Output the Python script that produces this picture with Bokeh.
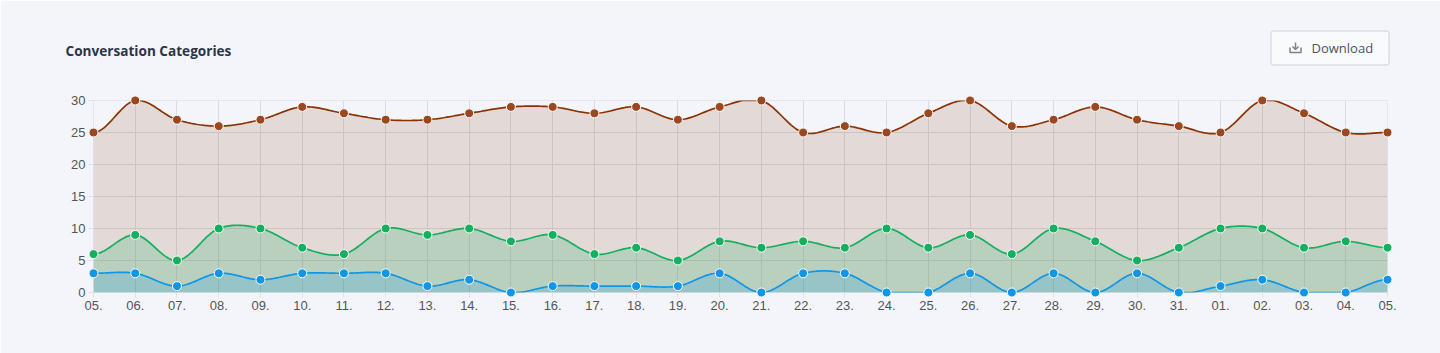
import numpy as np
from bokeh.core.properties import value
from bokeh.embed import file_html
from bokeh.resources import INLINE
from bokeh.plotting import figure
from bokeh.models import FixedTicker, Range1d

labels = ["05.","06.","07.","08.","09.","10.","11.","12.","13.","14.","15.","16.","17.","18.","19.","20.","21.","22.","23.","24.","25.","26.","27.","28.","29.","30.","31.","01.","02.","03.","04.","05."]
brown = [25,30,27,26,27,29,28,27,27,28,29,29,28,29,27,29,30,25,26,25,28,30,26,27,29,27,26,25,30,28,25,25]
green = [6,9,5,10,10,7,6,10,9,10,8,9,6,7,5,8,7,8,7,10,7,9,6,10,8,5,7,10,10,7,8,7]
blue = [3,3,1,3,2,3,3,3,1,2,0,1,1,1,1,3,0,3,3,0,0,3,0,3,0,3,0,1,2,0,0,2]
y_ticks = [0,5,10,15,20,25,30]
series = [(brown,"#8a3200","#99481f",0.14),(green,"#12b05e","#14b060",0.2),(blue,"#0f96e6","#0f96e6",0.2)]
BG = "#f3f5fb"
FL, FR, FT, FB = 93, 1387, 100, 292

def dx(x): return (x - FL) * (len(labels) - 1) / (FR - FL)
def dy(y): return (FB - y) * 30 / (FB - FT)

def smooth(v, n=24):
    v = np.asarray(v, float)
    m = np.zeros(len(v))
    m[1:-1] = (v[2:] - v[:-2]) / 2
    xs, ys = [], []
    for i in range(len(v) - 1):
        t = np.linspace(0, 1, n, endpoint=False)
        h = (2*t**3-3*t**2+1)*v[i] + (t**3-2*t**2+t)*m[i] + (-2*t**3+3*t**2)*v[i+1] + (t**3-t**2)*m[i+1]
        xs.append(i + t); ys.append(h)
    xs.append([len(v)-1]); ys.append([v[-1]])
    return np.concatenate(xs), np.clip(np.concatenate(ys), 0, 30)

idx = list(range(len(labels)))
p = figure(width=1440, height=353, output_backend="svg", toolbar_location=None,
           x_range=Range1d(0, len(labels)-1), y_range=Range1d(0, 30),
           min_border_left=FL, min_border_right=1440-FR, min_border_top=FT, min_border_bottom=353-FB)
p.background_fill_color = BG
p.border_fill_color = BG
p.outline_line_color = "#e4e7ee"
p.grid.grid_line_color = "#d9dbe3"
p.xgrid.ticker = FixedTicker(ticks=idx)
p.ygrid.ticker = FixedTicker(ticks=y_ticks)
p.xaxis.ticker = FixedTicker(ticks=idx)
p.yaxis.ticker = FixedTicker(ticks=y_ticks)
p.xaxis.major_label_overrides = {i: l for i, l in enumerate(labels)}
for ax in (p.xaxis, p.yaxis):
    ax.axis_line_color = None
    ax.major_tick_line_color = "#dfe1e8"
    ax.major_tick_in = 0
    ax.major_tick_out = 5
    ax.minor_tick_line_color = None
    ax.major_label_text_font = "Liberation Sans"
    ax.major_label_text_font_size = "13px"
    ax.major_label_text_color = "#555555"
p.xaxis.major_label_standoff = 3
p.yaxis.major_label_standoff = 3

for vals, col, mcol, a in series:
    xs, ys = smooth(vals)
    p.varea(xs, ys, np.zeros_like(ys), fill_color=col, fill_alpha=a)
for vals, col, mcol, a in series:
    xs, ys = smooth(vals)
    p.line(xs, ys, line_color=col, line_width=1.7)
for vals, col, mcol, a in series:
    p.scatter(idx, vals, size=9, fill_color=mcol, line_color="#ffffff", line_width=1, level="overlay")

p.text([dx(65)], [dy(50)], text=["Conversation Categories"], text_font=value("Open Sans"), text_font_style="bold",
       text_font_size="13.6px", text_color="#2b3548", text_baseline="middle", level="overlay")
p.quad(left=[dx(1270.5)], right=[dx(1388.5)], top=[dy(30.5)], bottom=[dy(64.5)], fill_color="#f9fafc",
       line_color="#ccd0d8", line_width=1, border_radius=2, level="overlay")
p.text([dx(1311)], [dy(47)], text=["Download"], text_font=value("Open Sans"), text_font_size="13px",
       text_color="#4a5368", text_baseline="middle", level="overlay")
icon_x = [[1289.5,1289.5,1300.5,1300.5],[1295,1295],[1292,1295,1298]]
icon_y = [[47,52,52,47],[42,49],[46,49,46]]
p.multi_line([[dx(x) for x in r] for r in icon_x], [[dy(y) for y in r] for r in icon_y],
             line_color="#7b8390", line_width=1.5, level="overlay")

html = file_html(p, INLINE)
open("out.html", "w").write(html)
